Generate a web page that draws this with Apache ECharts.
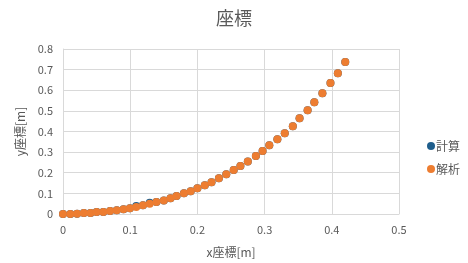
<!DOCTYPE html>
<html><head><meta charset="utf-8">
<script src="https://cdn.jsdelivr.net/npm/echarts@6/dist/echarts.min.js"></script>
<style>html,body{margin:0;padding:0;background:#fff}#c{width:468px;height:263px}</style>
</head><body><div id="c"></div>
<script>
const xTicks = [0, 0.1, 0.2, 0.3, 0.4, 0.5];
const yTicks = [0, 0.1, 0.2, 0.3, 0.4, 0.5, 0.6, 0.7, 0.8];
const analysisX = [0,0.011,0.021,0.031,0.041,0.050,0.060,0.070,0.080,0.090,0.0995,0.109,0.119,0.129,0.139,0.150,0.160,0.169,0.180,0.190,0.200,0.211,0.221,0.232,0.243,0.254,0.264,0.275,0.287,0.297,0.307,0.319,0.330,0.342,0.352,0.364,0.374,0.386,0.398,0.409,0.420];
const analysisY = [0,0,0.0015,0.005,0.005,0.010,0.010,0.015,0.018,0.023,0.028,0.034,0.042,0.050,0.058,0.066,0.076,0.087,0.100,0.110,0.125,0.139,0.154,0.173,0.193,0.213,0.233,0.255,0.281,0.305,0.333,0.362,0.391,0.425,0.464,0.503,0.542,0.586,0.635,0.683,0.737];
const calcX = [0,0.011,0.021,0.031,0.041,0.050,0.060,0.070,0.080,0.090,0.0995,0.109,0.119,0.129,0.139,0.150,0.160,0.169,0.180,0.190,0.200,0.211,0.221,0.232,0.243,0.254,0.264,0.275,0.287,0.297,0.307,0.319,0.330,0.342,0.352,0.364,0.374,0.386,0.398,0.409,0.420];
const calcY = [0,0,0.0015,0.005,0.005,0.010,0.010,0.015,0.018,0.023,0.028,0.039,0.042,0.055,0.058,0.066,0.076,0.087,0.100,0.110,0.125,0.139,0.154,0.173,0.193,0.213,0.233,0.255,0.281,0.305,0.333,0.362,0.391,0.425,0.464,0.503,0.542,0.586,0.635,0.683,0.737];
const names = ['計算', '解析'];

const font = '"Noto Sans CJK JP", "Noto Sans", sans-serif';
const chart = echarts.init(document.getElementById('c'), null, {renderer: 'canvas'});
const zip = (a, b) => a.map((v, i) => [v, b[i]]);
chart.setOption({
  animation: false,
  textStyle: {fontFamily: font},
  title: {text: '座標', left: 'center', top: 4, textStyle: {fontFamily: font, fontSize: 18, fontWeight: 'normal', color: '#595959'}},
  grid: {left: 63, right: 69, top: 49, bottom: 49, containLabel: false},
  legend: {
    orient: 'vertical', left: 422, top: 135, itemWidth: 8, itemHeight: 8, itemGap: 11,
    icon: 'circle', textStyle: {fontFamily: font, fontSize: 12, color: '#595959', padding: [0,0,0,-4]},
    data: names
  },
  xAxis: {
    type: 'value', min: xTicks[0], max: xTicks[xTicks.length-1], interval: 0.1,
    name: 'x座標[m]', nameLocation: 'middle', nameGap: 32,
    nameTextStyle: {fontFamily: font, fontSize: 12, color: '#595959'},
    axisLine: {show: true, lineStyle: {color: '#d9d9d9'}},
    axisTick: {show: false},
    axisLabel: {color: '#595959', fontSize: 11, margin: 10, fontFamily: font},
    splitLine: {show: true, lineStyle: {color: '#d9d9d9'}}
  },
  yAxis: {
    type: 'value', min: yTicks[0], max: yTicks[yTicks.length-1], interval: 0.1,
    name: 'y座標[m]', nameLocation: 'middle', nameGap: 37, nameRotate: 90,
    nameTextStyle: {fontFamily: font, fontSize: 12, color: '#595959'},
    axisLine: {show: true, lineStyle: {color: '#d9d9d9'}},
    axisTick: {show: false},
    axisLabel: {color: '#595959', fontSize: 11, margin: 10, fontFamily: font},
    splitLine: {show: true, lineStyle: {color: '#d9d9d9'}}
  },
  series: [
    {name: names[0], type: 'scatter', symbolSize: 8, itemStyle: {color: '#1F5E8C', opacity: 1}, data: zip(calcX, calcY)},
    {name: names[1], type: 'scatter', symbolSize: 8, itemStyle: {color: '#ED7D31', opacity: 1}, data: zip(analysisX, analysisY)}
  ]
});
</script></body></html>
